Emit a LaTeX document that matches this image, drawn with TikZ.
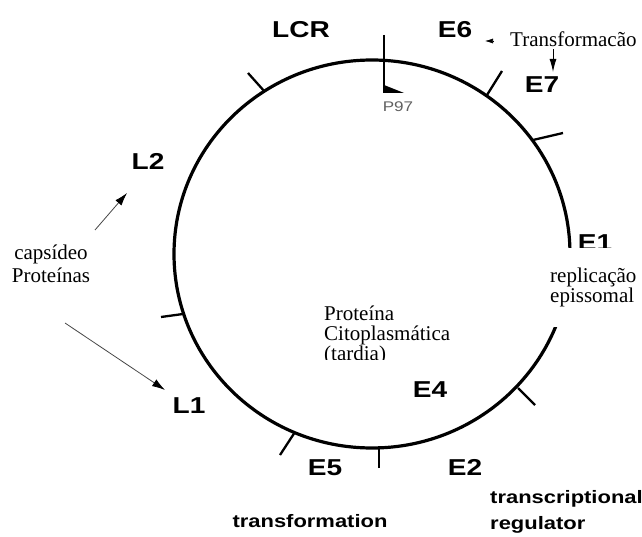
\documentclass[tikz,border=0pt]{standalone}
\usepackage{fontspec}
\usepackage{graphicx}
\setmainfont{Liberation Serif}
\newfontfamily\sansfam{Liberation Sans}
\usetikzlibrary{arrows.meta}
\newcommand{\wide}[1]{\scalebox{1.22}[1]{#1}}
\tikzset{
	gene/.style={font=\sansfam\bfseries\fontsize{23}{23}\selectfont, inner sep=0pt, anchor=base},
	role/.style={font=\sansfam\bfseries\fontsize{18}{26}\selectfont, inner sep=0pt, align=left},
	note/.style={font=\fontsize{21}{20}\selectfont, inner sep=0pt, align=left},
	tick/.style={line width=2.3pt},
	pointer/.style={gray!55!black, line width=.8pt, -{Latex[length=13pt,width=8pt,black]}}
}
\begin{document}
\begin{tikzpicture}[x=1pt,y=-1pt]
		\useasboundingbox (0,0) rectangle (642,537);
		\draw [line width=3.2pt] (372,254) ellipse [x radius=198, y radius=194];
		
		\draw [tick] (384,35) -- (384,93); \fill (384,85) -- (384,93) -- (404,93) -- cycle;
		\node [font=\sansfam\fontsize{14}{14}\selectfont, text=gray!75!black, inner sep=0pt, anchor=base] (p97) at (398,112) {\wide{P97}};
		\draw [tick] (248,73) -- (265,92);
		\draw [tick] (502,71) -- (487,95);
		\draw [tick] (563,133) -- (533,140);
		\draw [tick] (161,317) -- (183,314);
		\draw [tick] (280,455) -- (295,432);
		\draw [tick] (379,468) -- (379,446);
		\draw [tick] (535,405) -- (518,388);
		
		\node [gene] (lcr) at (301,38) {\wide{LCR}};
		\node [gene] (e6) at (455,38) {\wide{E6}};
		\node [gene] (e7) at (542,93) {\wide{E7}};
		\node [gene] (l2) at (148,170) {\wide{L2}};
		\node [gene] (l1) at (189,413) {\wide{L1}};
		\node [gene] (e4) at (430,397) {\wide{E4}};
		\node [gene] (e5) at (325,475) {\wide{E5}};
		\node [gene] (e2) at (465,475) {\wide{E2}};
		\node [gene] (e1) at (595,251) {\wide{E1}};
		
		\fill [white] (548,248) rectangle (642,327);
		\node [note, anchor=base west] (repl) at (550,302) {replicação\\epissomal};
		\begin{scope}
			\clip (300,290) rectangle (470,359);
			\node [note, anchor=base west] (cito) at (324,360) {Proteína\\Citoplasmática\\(tardia)};
		\end{scope}
		
		\node [note, align=center, font=\fontsize{21}{24}\selectfont, anchor=base] (caps) at (51,283) {capsídeo\\Proteínas};
		\coordinate (capa) at (95,230); \coordinate (l2tip) at (127,193);
		\coordinate (capb) at (65,323); \coordinate (l1tip) at (165,390);
		\draw [pointer] (capa) -- (l2tip);
		\draw [pointer] (capb) -- (l1tip);
		
		\node [note, fill=white, inner sep=2pt, anchor=base west] (trans) at (508,47) {Transformacão};
		\coordinate (e6tip) at (485,41); \coordinate (e7tip) at (553,72);
		\draw [line width=.6pt, shorten <=14pt, -{Latex[length=8pt,width=5pt]}] (trans.west |- e6tip) -- (e6tip);
		\draw [line width=1pt, -{Latex[length=13pt,width=7pt]}] (trans.south -| e7tip) -- (e7tip);
		
		\node [role, anchor=base] (tform) at (310,527) {\wide{transformation}};
		\node [role, anchor=base west] (treg) at (490,529) {\wide{transcriptional}\\\wide{regulator}};
\end{tikzpicture}
\end{document}
